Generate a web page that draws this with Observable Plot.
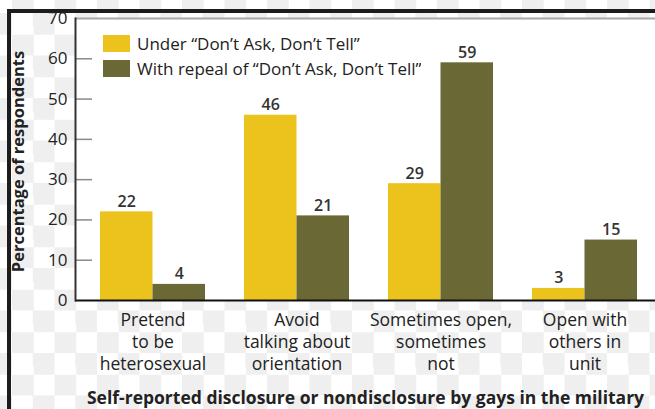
<!DOCTYPE html>
<html><head><meta charset="utf-8">
<script src="https://cdn.jsdelivr.net/npm/d3@7"></script>
<script src="https://cdn.jsdelivr.net/npm/@observablehq/plot@0.6"></script>
<style>
html,body{margin:0;padding:0;overflow:hidden;}
body{width:655px;height:409px;
 background-color:#fff;
 background-image:repeating-conic-gradient(#efefef 0 25%, #fff 0 50%);
 background-size:42.5px 42.5px;background-position:12px 13px;
 font-family:"Open Sans",sans-serif;}
#wrap{position:relative;width:655px;height:409px;overflow:hidden;}
#border{position:absolute;left:7px;top:9px;width:648px;height:400px;border-top:4px solid #1c1c1c;border-left:4px solid #1c1c1c;box-sizing:border-box;}
#chart{position:absolute;left:0;top:0;width:655px;height:409px;}
#chart svg{max-width:none !important;}
#legend{position:absolute;left:103px;top:31px;}
#legend .lg-swatches{margin:0 !important;min-height:0 !important;font:17px "Open Sans",sans-serif !important;color:#222 !important;}
#legend .lg-swatch{height:25px !important;padding:0 !important;display:flex !important;align-items:center !important;}
#legend .lg-swatch svg{margin-right:7px !important;}
</style>
</head><body>
<div id="wrap"><div id="border"></div><div id="chart"></div><div id="legend"></div></div>
<script>
const categories = ["Pretend\nto be\nheterosexual", "Avoid\ntalking about\norientation", "Sometimes open,\nsometimes\nnot", "Open with\nothers in\nunit"];
const series = ["Under “Don’t Ask, Don’t Tell”", "With repeal of “Don’t Ask, Don’t Tell”"];
const underValues = [22, 46, 29, 3];
const repealValues = [4, 21, 59, 15];
const yTicks = [0, 10, 20, 30, 40, 50, 60, 70];
const colors = ["#ecc21c", "#6a6935"];
const yLabel = "Percentage of respondents";
const xTitle = "Self-reported disclosure or nondisclosure by gays in the military";

const under = categories.map((c, i) => ({category: c, value: underValues[i]}));
const repeal = categories.map((c, i) => ({category: c, value: repealValues[i]}));
const half = 52.5;

const chart = Plot.plot({
  width: 655, height: 409,
  marginTop: 18, marginBottom: 109, marginLeft: 75, marginRight: 0,
  style: {background: "transparent", fontFamily: "'Open Sans', sans-serif", fontSize: "15px", color: "#222", overflow: "visible"},
  x: {domain: categories, paddingInner: 0.271, paddingOuter: 0.1493, align: 0.581},
  y: {domain: [0, 70]},
  marks: [
    Plot.frame({fill: "white", stroke: null}),
    Plot.gridY(yTicks.slice(1, -1), {stroke: "#8a8a8a", strokeOpacity: 1, strokeWidth: 1.5, insetRight: 563}),
    Plot.barY(under, {x: "category", y: "value", fill: colors[0], insetRight: half}),
    Plot.barY(repeal, {x: "category", y: "value", fill: colors[1], insetLeft: half}),
    Plot.ruleY([70], {stroke: "#a8a8a8", strokeWidth: 2}),
    Plot.ruleY([0], {stroke: "#111", strokeWidth: 2}),
    Plot.frame({anchor: "left", stroke: "#333", strokeWidth: 2}),
    Plot.text(under, {x: "category", y: "value", text: d => String(d.value), dx: -half / 2, dy: -5, lineAnchor: "bottom", fontWeight: 600, fill: "#333", fontSize: 16}),
    Plot.text(repeal, {x: "category", y: "value", text: d => String(d.value), dx: half / 2, dy: -5, lineAnchor: "bottom", fontWeight: 600, fill: "#333", fontSize: 16}),
    Plot.axisY({ticks: yTicks, tickSize: 0, tickPadding: 8, label: null, fontSize: 17}),
    Plot.axisX({tickSize: 0, tickPadding: 10, label: null, lineHeight: 1.26, fontSize: 17.5}),
    Plot.text([yLabel], {frameAnchor: "left", textAnchor: "middle", rotate: -90, dx: -57, dy: 2, fontWeight: 700, fontSize: 16.5, fill: "#222"}),
    Plot.text([xTitle], {frameAnchor: "bottom", dy: 103, fontWeight: 700, fontSize: 17.5, fill: "#222"})
  ]
});
document.getElementById("chart").appendChild(chart);

const legend = Plot.legend({
  color: {type: "ordinal", domain: series, range: colors},
  legend: "swatches", swatchWidth: 27, swatchHeight: 17, columns: 1, className: "lg"
});
document.getElementById("legend").appendChild(legend);
</script>
</body></html>
